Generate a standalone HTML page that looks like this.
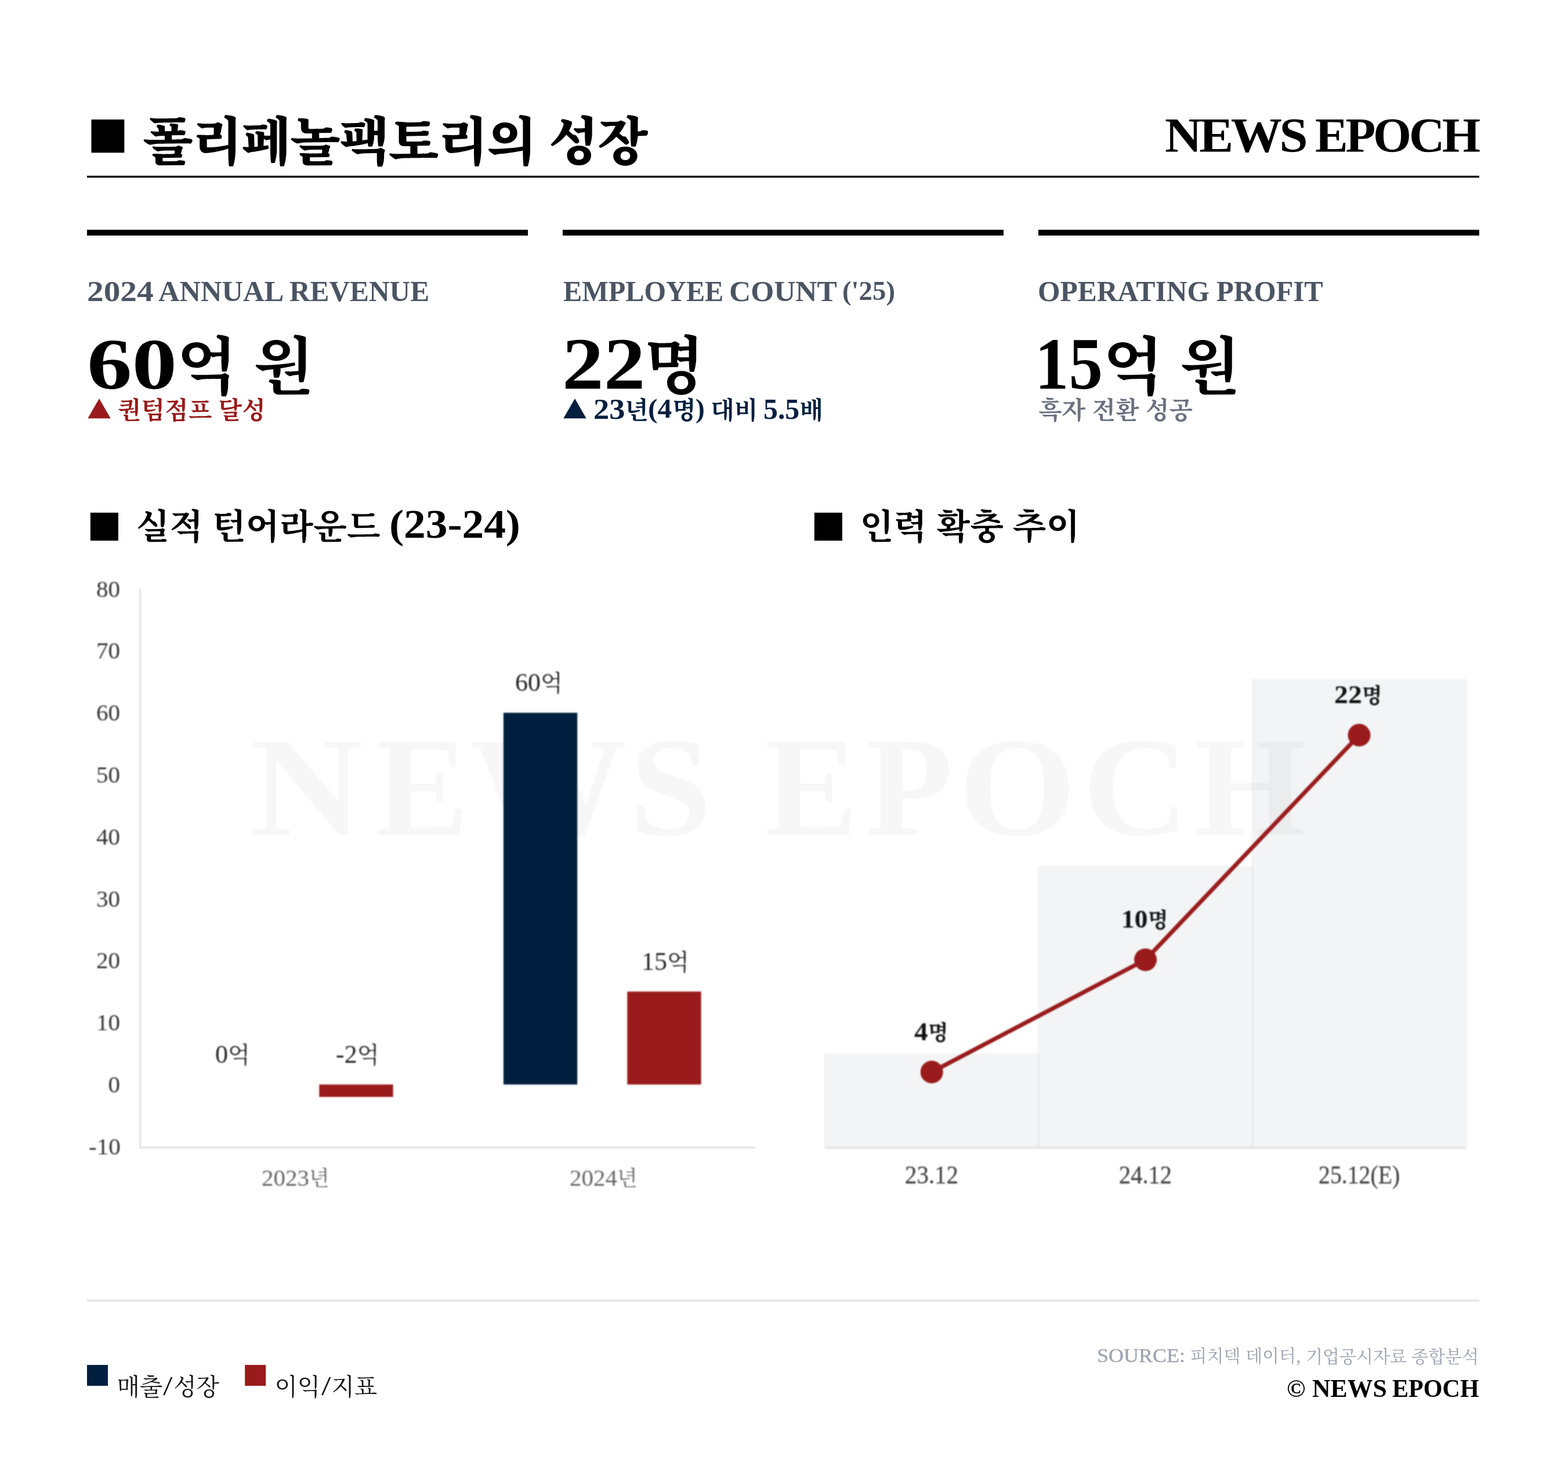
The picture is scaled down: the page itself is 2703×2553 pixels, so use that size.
<!DOCTYPE html>
<html lang="ko"><head><meta charset="utf-8"><title>폴리페놀팩토리의 성장</title>
<style>
html,body{margin:0;padding:0}
body{width:2703px;height:2553px;background:#fff;position:relative;overflow:hidden;font-family:'Liberation Serif','Noto Serif CJK KR','Noto Serif CJK SC',serif}
.g{position:absolute;left:0;top:0;margin:0;padding:0;font-size:0;line-height:0;white-space:nowrap}
.i{position:relative;display:inline-block;vertical-align:top;white-space:nowrap;line-height:1;transform-origin:0 0}
.blur{filter:blur(1.1px)}
.K{font-family:'Noto Serif CJK KR','Noto Serif CJK SC',serif}
.L{font-family:'Liberation Serif',serif}
svg{position:absolute;left:0;top:0}
</style></head><body>
<svg width="2703" height="2553" viewBox="0 0 2703 2553">
<rect x="150" y="302.9" width="2400" height="3.4" fill="#000"/>
<rect x="150" y="396.1" width="760" height="10" fill="#000"/>
<rect x="970" y="396.1" width="760" height="10" fill="#000"/>
<rect x="1790" y="396.1" width="760" height="10" fill="#000"/>
<rect x="150" y="2240.2" width="2400" height="3.6" fill="#e5e5e5"/>
<rect x="150" y="2352.9" width="36" height="36" fill="#001f3f"/>
<rect x="422.2" y="2352.9" width="36" height="36" fill="#991b1b"/>
</svg>
<div class="g"><span class="i m L" style="left:431.63px;top:1236.27px;font-size:243.96px;font-weight:700;color:rgba(0,0,0,0.03);letter-spacing:19.7px;transform:scale(1.0985,1.0000);">N</span><span class="i m L" style="left:450.69px;top:1236.03px;font-size:243.96px;font-weight:700;color:rgba(0,0,0,0.03);letter-spacing:19.7px;transform:scale(0.9885,1.0000);">E</span><span class="i m L" style="left:430.9px;top:1236.27px;font-size:243.96px;font-weight:700;color:rgba(0,0,0,0.03);letter-spacing:19.7px;transform:scale(1.1161,1.0000);">W</span><span class="i m L" style="left:442.83px;top:1236.03px;font-size:243.96px;font-weight:700;color:rgba(0,0,0,0.03);letter-spacing:19.7px;transform:scale(1.0436,1.0000);">S</span> <span class="i m L" style="left:520.17px;top:1236.03px;font-size:243.96px;font-weight:700;color:rgba(0,0,0,0.03);letter-spacing:19.7px;transform:scale(0.9886,1.0000);">E</span><span class="i m L" style="left:512.73px;top:1236.03px;font-size:243.96px;font-weight:700;color:rgba(0,0,0,0.03);letter-spacing:19.7px;transform:scale(1.0025,1.0000);">P</span><span class="i m L" style="left:503.62px;top:1236.27px;font-size:243.96px;font-weight:700;color:rgba(0,0,0,0.03);letter-spacing:19.7px;transform:scale(1.0701,1.0000);">O</span><span class="i m L" style="left:508.41px;top:1236.03px;font-size:243.96px;font-weight:700;color:rgba(0,0,0,0.03);letter-spacing:19.7px;transform:scale(1.0394,1.0000);">C</span><span class="i m L" style="left:505.73px;top:1236.03px;font-size:243.96px;font-weight:700;color:rgba(0,0,0,0.03);letter-spacing:19.7px;transform:scale(1.0024,1.0000);">H</span></div>
<svg class="blur" width="2703" height="2553" viewBox="0 0 2703 2553">
<rect x="1420.6" y="1815.7" width="371.4" height="162.8" fill="rgba(0,31,63,0.05)"/>
<rect x="1789.0" y="1493.1" width="371.5" height="485.4" fill="rgba(0,31,63,0.05)"/>
<rect x="2157.5" y="1170.5" width="371.5" height="808.0" fill="rgba(0,31,63,0.05)"/>
<rect x="240.2" y="1015" width="3" height="964.5" fill="#e0e0e0"/>
<rect x="240.2" y="1976.7" width="1062" height="3" fill="#e0e0e0"/>
<rect x="1421.6" y="1977.3" width="1105.4" height="3" fill="#e0e0e0"/>
<rect x="867.9" y="1228.7" width="127.3" height="640.8" fill="#001f3f"/>
<rect x="1081.3" y="1709.3" width="127.3" height="160.2" fill="#991b1b"/>
<rect x="550.3" y="1869.5" width="127.3" height="21.4" fill="#991b1b"/>
<polyline points="1606.2,1848.0 1974.6,1654.4 2343.0,1267.3" fill="none" stroke="#991b1b" stroke-width="7.2" stroke-linejoin="round"/>
<circle cx="1606.2" cy="1848.0" r="19.5" fill="#991b1b"/>
<circle cx="1974.6" cy="1654.4" r="19.5" fill="#991b1b"/>
<circle cx="2343.0" cy="1267.3" r="19.5" fill="#991b1b"/>
</svg>
<div class="g"><span class="i m" style="left:150.5px;top:192px;font-size:74.6px;font-weight:400;color:#000;font-family:'DejaVu Sans',sans-serif;">■</span> <span class="i m K" style="left:175.55px;top:192.2px;font-size:90px;font-weight:900;color:#000;letter-spacing:-2.25px;">폴리페놀팩토리의</span> <span class="i m K" style="left:197.19px;top:192.32px;font-size:90px;font-weight:900;color:#000;letter-spacing:-2.25px;">성장</span></div>
<div class="g"><span class="i m L" style="left:2008.47px;top:191.45px;font-size:85.05px;font-weight:700;color:#000;letter-spacing:-4.25px;transform:scale(1.0376,1.0000);">NEWS</span> <span class="i m L" style="left:2033.92px;top:191.45px;font-size:85.05px;font-weight:700;color:#000;letter-spacing:-4.25px;transform:scale(0.9993,1.0000);">EPOCH</span></div>
<div class="g"><span class="i m L" style="left:149.68px;top:476.8px;font-size:50.36px;font-weight:700;color:#4b5563;transform:scale(1.1373,1.0000);">2024</span> <span class="i m L" style="left:172.4px;top:476.5px;font-size:51.05px;font-weight:700;color:#4b5563;transform:scale(0.9904,1.0000);">ANNUAL</span> <span class="i m L" style="left:179.47px;top:476.5px;font-size:51.05px;font-weight:700;color:#4b5563;transform:scale(0.9658,1.0000);">REVENUE</span></div>
<div class="g"><span class="i m L" style="left:149.71px;top:564.84px;font-size:125.48px;font-weight:700;color:#000;transform:scale(1.2362,1.0000);">60</span><span class="i m K" style="left:178.92px;top:570.15px;font-size:108px;font-weight:700;color:#000;">억</span> <span class="i m K" style="left:207.58px;top:569.87px;font-size:108px;font-weight:700;color:#000;">원</span></div>
<div class="g"><span class="i m K" style="left:150.03px;top:683.32px;font-size:42px;font-weight:700;color:#991b1b;">▲</span> <span class="i m K" style="left:160.93px;top:683.05px;font-size:42px;font-weight:700;color:#991b1b;">퀀텀점프</span> <span class="i m K" style="left:172.28px;top:682.51px;font-size:42px;font-weight:700;color:#991b1b;">달성</span></div>
<div class="g"><span class="i m L" style="left:970.97px;top:476.5px;font-size:51.05px;font-weight:700;color:#4b5563;transform:scale(0.9458,1.0000);">EMPLOYEE</span> <span class="i m L" style="left:964.86px;top:476.5px;font-size:51.05px;font-weight:700;color:#4b5563;transform:scale(1.0075,1.0000);">COUNT</span> <span class="i m L" style="left:975.52px;top:477.89px;font-size:47.02px;font-weight:700;color:#4b5563;transform:scale(0.9953,1.0000);">(&#x27;25)</span></div>
<div class="g"><span class="i m L" style="left:968.66px;top:565.36px;font-size:126.19px;font-weight:700;color:#000;transform:scale(1.1356,1.0000);">22</span><span class="i m K" style="left:984.42px;top:569.28px;font-size:108px;font-weight:700;color:#000;">명</span></div>
<div class="g"><span class="i m K" style="left:970.03px;top:683.32px;font-size:42px;font-weight:700;color:#001f3f;">▲</span> <span class="i m L" style="left:980.77px;top:679.85px;font-size:50.36px;font-weight:700;color:#001f3f;transform:scale(1.0831,1.0000);">23</span><span class="i m K" style="left:984.86px;top:682.56px;font-size:42px;font-weight:700;color:#001f3f;">년</span><span class="i m L" style="left:983.95px;top:681px;font-size:47.27px;font-weight:700;color:#001f3f;transform:scale(1.0450,1.0000);">(4</span><span class="i m K" style="left:986.82px;top:682.75px;font-size:42px;font-weight:700;color:#001f3f;">명</span><span class="i m L" style="left:985.78px;top:681.27px;font-size:47.29px;font-weight:700;color:#001f3f;transform:scale(1.0058,1.0000);">)</span> <span class="i m K" style="left:996.63px;top:682.87px;font-size:42px;font-weight:700;color:#001f3f;">대비</span> <span class="i m L" style="left:1005.97px;top:679.86px;font-size:50.85px;font-weight:700;color:#001f3f;transform:scale(0.9797,1.0000);">5.5</span><span class="i m K" style="left:1005.2px;top:682.54px;font-size:42px;font-weight:700;color:#001f3f;">배</span></div>
<div class="g"><span class="i m L" style="left:1789.43px;top:476.5px;font-size:51.05px;font-weight:700;color:#4b5563;transform:scale(0.9695,1.0000);">OPERATING</span> <span class="i m L" style="left:1791.21px;top:476.5px;font-size:51.05px;font-weight:700;color:#4b5563;transform:scale(0.9532,1.0000);">PROFIT</span></div>
<div class="g"><span class="i m L" style="left:1783.61px;top:565.17px;font-size:126.19px;font-weight:700;color:#000;transform:scale(0.9267,1.0000);">15</span><span class="i m K" style="left:1775.18px;top:570.15px;font-size:108px;font-weight:700;color:#000;">억</span> <span class="i m K" style="left:1803.84px;top:569.87px;font-size:108px;font-weight:700;color:#000;">원</span></div>
<div class="g"><span class="i m K" style="left:1790.06px;top:683.11px;font-size:42px;font-weight:700;color:#6b7280;">흑자</span> <span class="i m K" style="left:1801.25px;top:682.99px;font-size:42px;font-weight:700;color:#6b7280;">전환</span> <span class="i m K" style="left:1812.71px;top:682.62px;font-size:42px;font-weight:700;color:#6b7280;">성공</span></div>
<div class="g"><span class="i m" style="left:150px;top:871px;font-size:63px;font-weight:400;color:#000;font-family:'DejaVu Sans',sans-serif;">■</span> <span class="i m K" style="left:174.7px;top:873.48px;font-size:60px;font-weight:700;color:#000;">실적</span> <span class="i m K" style="left:190.57px;top:873.34px;font-size:60px;font-weight:700;color:#000;">턴어라운드</span> <span class="i m L" style="left:205.33px;top:868.57px;font-size:69.79px;font-weight:700;color:#000;transform:scale(1.0797,1.0000);">(23-24)</span></div>
<div class="g"><span class="i m" style="left:1398px;top:871px;font-size:63px;font-weight:400;color:#000;font-family:'DejaVu Sans',sans-serif;">■</span> <span class="i m K" style="left:1422.64px;top:873.04px;font-size:60px;font-weight:700;color:#000;">인력</span> <span class="i m K" style="left:1438.72px;top:873.49px;font-size:60px;font-weight:700;color:#000;">확충</span> <span class="i m K" style="left:1454.11px;top:873.19px;font-size:60px;font-weight:700;color:#000;">추이</span></div>
<div class="g"><span class="i m K" style="left:201.4px;top:2367.92px;font-size:40.8px;font-weight:400;color:#111;">매출</span><span class="i m L" style="left:202.27px;top:2365.5px;font-size:47.13px;font-weight:400;color:#111;transform:scale(1.2496,1.0000);">/</span><span class="i m K" style="left:207.21px;top:2367.73px;font-size:40.8px;font-weight:400;color:#111;">성장</span></div>
<div class="g"><span class="i m K" style="left:473.44px;top:2368.45px;font-size:40.8px;font-weight:400;color:#111;">이익</span><span class="i m L" style="left:475.06px;top:2365.5px;font-size:47.09px;font-weight:400;color:#111;transform:scale(1.2536,1.0000);">/</span><span class="i m K" style="left:479.51px;top:2368.43px;font-size:40.8px;font-weight:400;color:#111;">지표</span></div>
<div class="g"><span class="i m L" style="left:1891.09px;top:2320.2px;font-size:33.36px;font-weight:400;color:#9ca3af;-webkit-text-stroke:0.3px currentColor;transform:scale(1.0790,1.0000);">SOURCE:</span> <span class="i m K" style="left:1910.66px;top:2320.43px;font-size:30px;font-weight:400;color:#9ca3af;">피치덱</span> <span class="i m K" style="left:1919.3px;top:2320.42px;font-size:30px;font-weight:400;color:#9ca3af;">데이터</span><span class="i m L" style="left:1919.4px;top:2322.45px;font-size:32.93px;font-weight:400;color:#9ca3af;">,</span> <span class="i m K" style="left:1928.12px;top:2321.28px;font-size:30px;font-weight:400;color:#9ca3af;">기업공시자료</span> <span class="i m K" style="left:1936.3px;top:2321.04px;font-size:30px;font-weight:400;color:#9ca3af;">종합분석</span></div>
<div class="g"><span class="i m L" style="left:2218.28px;top:2373.23px;font-size:42.68px;font-weight:700;color:#000;transform:scale(1.0154,1.0000);">©</span> <span class="i m L" style="left:2229.78px;top:2372px;font-size:43.5px;font-weight:700;color:#000;transform:scale(1.0059,1.0000);">NEWS</span> <span class="i m L" style="left:2240.12px;top:2372px;font-size:43.5px;font-weight:700;color:#000;transform:scale(0.9673,1.0000);">EPOCH</span></div>
<div class="g"><span class="i m L blur" style="left:166px;top:994.6px;font-size:41px;font-weight:400;color:#333;">80</span></div>
<div class="g"><span class="i m L blur" style="left:166px;top:1101.4px;font-size:41px;font-weight:400;color:#333;">70</span></div>
<div class="g"><span class="i m L blur" style="left:166px;top:1208.2px;font-size:41px;font-weight:400;color:#333;">60</span></div>
<div class="g"><span class="i m L blur" style="left:166px;top:1315px;font-size:41px;font-weight:400;color:#333;">50</span></div>
<div class="g"><span class="i m L blur" style="left:166px;top:1421.8px;font-size:41px;font-weight:400;color:#333;">40</span></div>
<div class="g"><span class="i m L blur" style="left:166px;top:1528.6px;font-size:41px;font-weight:400;color:#333;">30</span></div>
<div class="g"><span class="i m L blur" style="left:166px;top:1635.4px;font-size:41px;font-weight:400;color:#333;">20</span></div>
<div class="g"><span class="i m L blur" style="left:166px;top:1742.2px;font-size:41px;font-weight:400;color:#333;">10</span></div>
<div class="g"><span class="i m L blur" style="left:186.51px;top:1849px;font-size:40.99px;font-weight:400;color:#333;">0</span></div>
<div class="g"><span class="i m L blur" style="left:152.7px;top:1956.84px;font-size:40.85px;font-weight:400;color:#333;transform:scale(1.0055,1.0000);">-10</span></div>
<div class="g"><span class="i m L blur" style="left:451px;top:2010px;font-size:41px;font-weight:400;color:#666;">2023</span><span class="i m K blur" style="left:451px;top:2011px;font-size:36px;font-weight:400;color:#666;">년</span></div>
<div class="g"><span class="i m L blur" style="left:982px;top:2010px;font-size:41px;font-weight:400;color:#666;">2024</span><span class="i m K blur" style="left:982px;top:2011px;font-size:36px;font-weight:400;color:#666;">년</span></div>
<div class="g"><span class="i m L blur" style="left:371px;top:1796px;font-size:44px;font-weight:400;color:#222;">0</span><span class="i m K blur" style="left:371px;top:1796px;font-size:39px;font-weight:400;color:#222;">억</span></div>
<div class="g"><span class="i m L blur" style="left:579px;top:1796px;font-size:44px;font-weight:400;color:#222;">-2</span><span class="i m K blur" style="left:579px;top:1796px;font-size:39px;font-weight:400;color:#222;">억</span></div>
<div class="g"><span class="i m L blur" style="left:888px;top:1155px;font-size:44px;font-weight:400;color:#222;">60</span><span class="i m K blur" style="left:888px;top:1155px;font-size:39px;font-weight:400;color:#222;">억</span></div>
<div class="g"><span class="i m L blur" style="left:1106px;top:1636px;font-size:44px;font-weight:400;color:#222;">15</span><span class="i m K blur" style="left:1106px;top:1636px;font-size:39px;font-weight:400;color:#222;">억</span></div>
<div class="g"><span class="i m L blur" style="left:1559.82px;top:2004.21px;font-size:43.42px;font-weight:400;color:#444;-webkit-text-stroke:0.3px currentColor;transform:scale(0.9419,1.0000);">23.12</span></div>
<div class="g"><span class="i m L blur" style="left:1928.87px;top:2004.26px;font-size:43.35px;font-weight:400;color:#444;-webkit-text-stroke:0.3px currentColor;transform:scale(0.9335,1.0000);">24.12</span></div>
<div class="g"><span class="i m L blur" style="left:2272.99px;top:2004.2px;font-size:43.5px;font-weight:400;color:#444;-webkit-text-stroke:0.3px currentColor;transform:scale(0.9138,1.0000);">25.12(E)</span></div>
<div class="g"><span class="i m L blur" style="left:1575.95px;top:1757px;font-size:43.5px;font-weight:700;color:#111;transform:scale(1.0882,1.0000);">4</span><span class="i m K blur" style="left:1578.13px;top:1760.32px;font-size:36px;font-weight:700;color:#111;">명</span></div>
<div class="g"><span class="i m L blur" style="left:1933.35px;top:1563.06px;font-size:43.35px;font-weight:700;color:#111;transform:scale(1.0506,1.0000);">10</span><span class="i m K blur" style="left:1935.63px;top:1566.33px;font-size:36px;font-weight:700;color:#111;">명</span></div>
<div class="g"><span class="i m L blur" style="left:2300.24px;top:1176.03px;font-size:43.51px;font-weight:700;color:#111;transform:scale(1.0999,1.0000);">22</span><span class="i m K blur" style="left:2304.38px;top:1179.33px;font-size:36px;font-weight:700;color:#111;">명</span></div>
</body></html>
